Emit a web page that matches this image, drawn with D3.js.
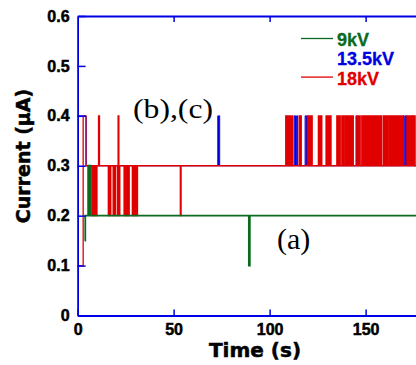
<!DOCTYPE html>
<html>
<head>
<meta charset="utf-8">
<script src="https://cdn.jsdelivr.net/npm/d3@7"></script>
<style>
  body { margin: 0; background: #fff; }
  svg { display: block; background: #fff; }
</style>
</head>
<body>
<svg id="chart" width="416" height="365"></svg>
<script>
const xTicks = [0, 50, 100, 150];
const xTopTicks = [50, 100, 150];
const yTicks = [0, 0.1, 0.2, 0.3, 0.4, 0.5, 0.6];
const legendLabels = ['9kV', '13.5kV', '18kV'];

// [time (s), current (uA)] change points, drawn as steps
const green9kV = [
    [3.7, 0.15], [4.0, 0.2], [5.5, 0.3], [5.9, 0.2], [6.2, 0.3], [6.6, 0.2],
    [89.2, 0.1], [89.7, 0.2], [177, 0.2]
];

const blue13kV = [
    [0, 0.4], [4.5, 0.3],
    [73.0, 0.4], [73.4, 0.3], [73.6, 0.4], [74.0, 0.3],
    [112.8, 0.4], [113.2, 0.3], [113.5, 0.4], [113.9, 0.3], [114.2, 0.4], [114.6, 0.3],
    [118.5, 0.4], [118.9, 0.3], [119.2, 0.4], [119.7, 0.3],
    [145.0, 0.4], [145.3, 0.3],
    [169.7, 0.4], [170.1, 0.3], [170.5, 0.4], [170.9, 0.3], [171.2, 0.4], [171.5, 0.3],
    [174.2, 0.4], [174.5, 0.3], [177, 0.3]
];

const red18kV = [
    [0, 0.1], [2.9, 0.4], [4.3, 0.3],
    [7.4, 0.2], [7.8, 0.3], [8.3, 0.2], [8.7, 0.3], [9.2, 0.2], [9.5, 0.3], [9.8, 0.2], [10.1, 0.3],
    [10.9, 0.4], [11.4, 0.3],
    [16.0, 0.2], [16.4, 0.3], [16.9, 0.2], [17.3, 0.3],
    [18.5, 0.2], [18.9, 0.3], [19.3, 0.2], [19.7, 0.3],
    [20.7, 0.2], [21.1, 0.4], [21.5, 0.2], [22.0, 0.3],
    [24.2, 0.2], [24.6, 0.3], [25.0, 0.2], [25.5, 0.3], [25.9, 0.2], [26.3, 0.3], [26.6, 0.2], [26.9, 0.3],
    [28.5, 0.2], [28.9, 0.3], [29.4, 0.2], [29.8, 0.3], [30.2, 0.2], [30.6, 0.3], [30.9, 0.2], [31.2, 0.3],
    [53.5, 0.2], [53.9, 0.3],
    // from ~108 s the 18kV trace flickers between 0.3 and 0.4
    [108.4, 0.4], [108.8, 0.3], [109.1, 0.4], [109.6, 0.3], [109.9, 0.4], [110.2, 0.3],
    [110.7, 0.4], [111.1, 0.3], [111.5, 0.4], [112.1, 0.3],
    [115.4, 0.4], [115.8, 0.3], [116.1, 0.4], [116.5, 0.3],
    [119.7, 0.4], [120.1, 0.3], [120.6, 0.4], [120.9, 0.3], [121.3, 0.4], [121.8, 0.3], [122.0, 0.4], [122.2, 0.3],
    [125.4, 0.4], [125.9, 0.3], [126.2, 0.4], [126.6, 0.3], [126.9, 0.4], [127.2, 0.3],
    [129.4, 0.4], [129.8, 0.3], [130.2, 0.4], [130.5, 0.3], [131.0, 0.4], [131.4, 0.3], [131.7, 0.4], [132.0, 0.3],
    [135.0, 0.4], [135.5, 0.3], [135.8, 0.4], [136.2, 0.3], [136.5, 0.4], [136.8, 0.3],
    [137.6, 0.4], [138.0, 0.3], [138.3, 0.4], [138.6, 0.3],
    [139.3, 0.4], [139.7, 0.3], [140.2, 0.4], [140.5, 0.3], [140.9, 0.4], [141.4, 0.3],
    [141.7, 0.4], [142.2, 0.3], [142.5, 0.4], [142.9, 0.3], [143.2, 0.4], [143.6, 0.3],
    [145.4, 0.4], [145.8, 0.3], [146.3, 0.4], [146.6, 0.3], [146.9, 0.4], [147.2, 0.3],
    [148.0, 0.4], [148.5, 0.3], [148.8, 0.4], [149.3, 0.3], [149.6, 0.4], [150.1, 0.3],
    [150.4, 0.4], [150.7, 0.3], [151.1, 0.4], [151.6, 0.3], [151.9, 0.4], [152.4, 0.3],
    [152.7, 0.4], [153.1, 0.3], [153.5, 0.4], [154.0, 0.3], [154.3, 0.4], [154.8, 0.3],
    [155.1, 0.4], [155.5, 0.3], [155.9, 0.4], [156.4, 0.3], [156.7, 0.4], [157.1, 0.3],
    [157.5, 0.4], [157.9, 0.3], [158.1, 0.4], [158.4, 0.3],
    [159.3, 0.4], [159.7, 0.3], [160.1, 0.4], [160.6, 0.3], [160.9, 0.4], [161.3, 0.3], [161.7, 0.4], [162.4, 0.3],
    [162.8, 0.4], [163.2, 0.3], [163.6, 0.4], [164.1, 0.3], [164.4, 0.4], [164.8, 0.3],
    [165.2, 0.4], [165.7, 0.3], [166.0, 0.4], [166.4, 0.3], [166.8, 0.4], [167.3, 0.3],
    [167.6, 0.4], [168.0, 0.3], [168.4, 0.4], [168.9, 0.3], [169.2, 0.4], [169.7, 0.3],
    [171.5, 0.4], [171.9, 0.3], [172.3, 0.4], [172.7, 0.3], [173.0, 0.4], [173.5, 0.3], [173.8, 0.4], [174.1, 0.3],
    [174.6, 0.4], [175.0, 0.3], [175.4, 0.4], [175.8, 0.3],
    [177, 0.3]
];

const axisColor = '#0000e6';
const colors = { green: '#0b6a1f', blue: '#0000e0', red: '#e00000' };

const svg = d3.select('#chart');

const x = d3.scaleLinear().domain([0, 177]).range([77.6, 77.6 + 1.92 * 177]);
const y = d3.scaleLinear().domain([0, 0.6]).range([315.5, 16]);

function heavyText(sel, family, size) {
    sel.attr('fill', '#000')
        .attr('stroke', '#000')
        .attr('stroke-width', 0.5)
        .attr('font-family', family)
        .attr('font-weight', 'bold')
        .attr('font-size', size);
}

function styleAxis(g) {
    g.select('.domain').attr('stroke', axisColor).attr('stroke-width', 1.8);
    g.selectAll('.tick line').attr('stroke', axisColor).attr('stroke-width', 1.5);
    g.selectAll('.tick text').call(heavyText, '"Liberation Sans", Arial, sans-serif', 16);
}

function drawSeries(data, color, width) {
    const line = d3.line()
        .x(function (d) { return x(d[0]); })
        .y(function (d) { return y(d[1]); })
        .curve(d3.curveStepAfter);

    svg.append('path')
        .datum(data)
        .attr('fill', 'none')
        .attr('stroke', color)
        .attr('stroke-width', width)
        .attr('d', line);
}

// series first, axes on top
drawSeries(blue13kV, colors.blue, 1.0);
drawSeries(red18kV, colors.red, 1.3);
drawSeries(green9kV, colors.green, 1.8);

svg.append('g')
    .attr('transform', 'translate(0,' + y(0) + ')')
    .call(d3.axisBottom(x).tickValues(xTicks).tickFormat(d3.format('d'))
        .tickSizeInner(-6).tickSizeOuter(0).tickPadding(8))
    .call(styleAxis);

svg.append('g')
    .attr('transform', 'translate(0,' + y(0.6) + ')')
    .call(d3.axisTop(x).tickValues(xTopTicks).tickFormat('')
        .tickSizeInner(-6).tickSizeOuter(0))
    .call(styleAxis);

svg.append('g')
    .attr('transform', 'translate(' + x(0) + ',0)')
    .call(d3.axisLeft(y).tickValues(yTicks).tickFormat(function (d) { return d === 0 ? '0' : d3.format('.1f')(d); })
        .tickSizeInner(-8).tickSizeOuter(0).tickPadding(8))
    .call(styleAxis);

// axis titles
svg.append('text')
    .attr('x', 255)
    .attr('y', 357)
    .attr('text-anchor', 'middle')
    .call(heavyText, '"DejaVu Sans", sans-serif', 20)
    .text('Time (s)');

svg.append('text')
    .attr('transform', 'translate(30,156) rotate(-90)')
    .attr('text-anchor', 'middle')
    .call(heavyText, '"DejaVu Sans", sans-serif', 19)
    .text('Current (\u03bcA)');

// legend
const legendColors = [colors.green, colors.blue, colors.red];
const legendLines = [true, false, true];
legendLabels.forEach(function (label, i) {
    const baseY = 46 + i * 19.3;
    if (legendLines[i]) {
        svg.append('line')
            .attr('x1', 301).attr('x2', 333)
            .attr('y1', baseY - 7.5).attr('y2', baseY - 7.5)
            .attr('stroke', legendColors[i])
            .attr('stroke-width', 1.3);
    }
    svg.append('text')
        .attr('x', 337)
        .attr('y', baseY)
        .attr('fill', legendColors[i])
        .attr('stroke', legendColors[i])
        .attr('stroke-width', 0.3)
        .attr('font-family', '"Liberation Sans", Arial, sans-serif')
        .attr('font-weight', 'bold')
        .attr('font-size', 18)
        .text(label);
});

// panel annotations
svg.append('text')
    .attr('x', 133)
    .attr('y', 118)
    .attr('font-family', '"Liberation Serif", "Times New Roman", serif')
    .attr('font-size', 27)
    .attr('textLength', 80)
    .attr('lengthAdjust', 'spacingAndGlyphs')
    .text('(b),(c)');

svg.append('text')
    .attr('x', 277)
    .attr('y', 249)
    .attr('font-family', '"Liberation Serif", "Times New Roman", serif')
    .attr('font-size', 30)
    .text('(a)');
</script>
</body>
</html>
